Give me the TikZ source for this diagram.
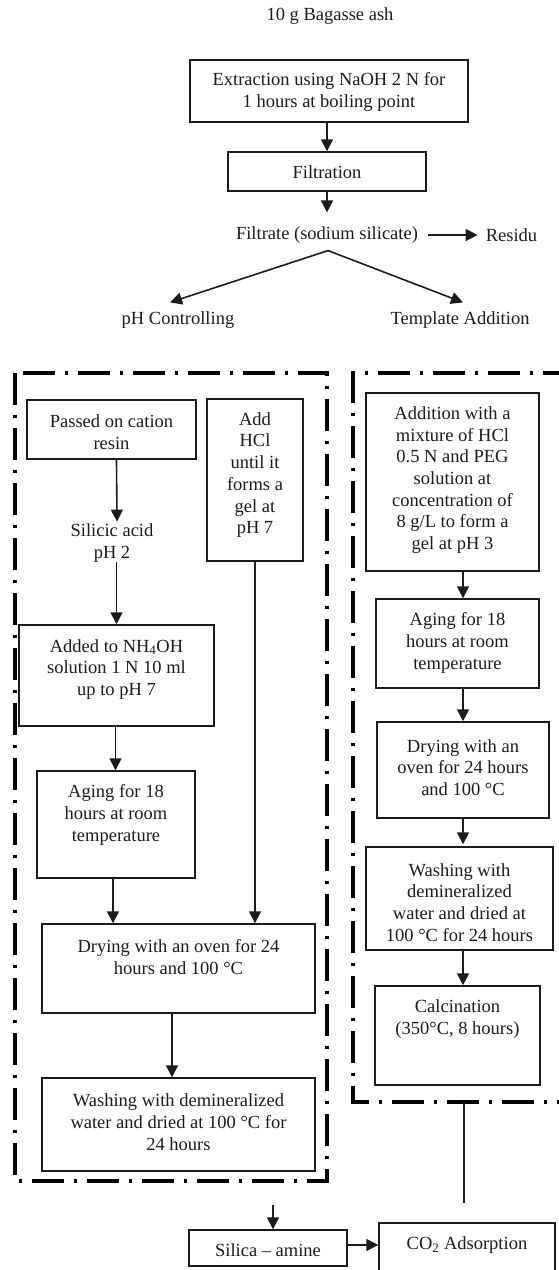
\documentclass[tikz,border=0pt]{standalone}
\usepackage{fontspec}
\setmainfont{Liberation Serif}
\usetikzlibrary{arrows.meta,calc}
\definecolor{ink}{HTML}{1c1c1c}
\newcommand{\bx}[5]{\node[box,minimum width={(#4)-(#2)},minimum height={(#5)-(#3)}] (#1) at ({((#2)+(#4))/2},{((#3)+(#5))/2}) {};}
\begin{document}
\begin{tikzpicture}[x=1pt,y=-1pt,
  box/.style={draw=ink,line width=1.5pt,rectangle,inner sep=0pt},
  txt/.style={text=ink,font=\fontsize{18.5}{21.7}\selectfont,align=center,inner sep=0pt},
  arr/.style={draw=ink,line width=1.6pt,-{Triangle[width=12pt,length=12pt]}},
  ln/.style={draw=ink,line width=1.6pt},
  dd/.style={draw=black,line width=3.4pt,line join=miter,dash pattern=on 32pt off 10pt on 3pt off 10pt}]
\useasboundingbox (0,0) rectangle (559,1270);
\clip (0,0) rectangle (559,1270);

% ---- top part
\node[txt] (title) at (330,16) {10 g Bagasse ash};
\bx{ext}{190}{60}{468}{122}
\node[txt] (extT) at (329,92) {Extraction using NaOH 2 N for\\1 hours at boiling point};
\bx{filt}{228}{152}{426}{191}
\node[txt] (filtT) at (327,172) {Filtration};
\draw[arr] (ext.south -| filt.north) -- (filt.north);
\node[txt] (filtrate) at (327,235) {Filtrate (sodium silicate)};
\draw[arr] (filt.south) -- ([yshift=14pt]filtrate.north);
\node[txt] (residu) at (511.5,235) {Residu};
\draw[arr] ([xshift=10pt]filtrate.east) -- ([xshift=-8pt]residu.west);
\node[txt] (ph) at (178,320) {pH Controlling};
\node[txt] (tmpl) at (460,320) {Template Addition};
\draw[arr] ([xshift=1pt,yshift=-7pt]filtrate.south) -- ([xshift=-8pt,yshift=9pt]ph.north);
\draw[arr] ([xshift=1pt,yshift=-7pt]filtrate.south) -- ([xshift=3pt,yshift=9pt]tmpl.north);

% ---- left group (pH controlling)
\draw[dd] (15,373) rectangle (327,1181);
\bx{passed}{27}{400}{196}{459}
\node[txt] (passedT) at (111.5,432) {Passed on cation\\resin};
\node[txt] (silicic) at (112,543) {Silicic acid\\pH 2};
\draw[arr] ([xshift=5pt]passed.south) -- ([xshift=5pt,yshift=2pt]silicic.north);
\bx{added}{19}{625}{214}{726}
\node[txt] (addedT) at (116.5,669.5) {Added to NH\textsubscript{4}OH\\solution 1 N 10 ml\\up to pH 7};
\draw[arr] (silicic.south -| added.north) -- (added.north);
\bx{hcl}{207}{399}{303}{561}
\node[txt] (hclT) at (255,475) {Add\\HCl\\until it\\forms a\\gel at\\pH 7};
\bx{agingL}{37}{771}{195}{878}
\node[txt] (agingLT) at (116,815) {Aging for 18\\hours at room\\temperature};
\draw[arr] ([xshift=-1pt]added.south) -- ([xshift=-1pt]added.south |- agingL.north);
\bx{dryL}{42}{924}{315}{1013}
\node[txt] (dryLT) at (178.5,957) {Drying with an oven for 24\\hours and 100 °C};
\draw[arr] ([xshift=-3pt]agingL.south) -- ([xshift=-3pt]agingL.south |- dryL.north);
\draw[arr] (hcl.south) -- (hcl.south |- dryL.north);
\bx{washL}{42}{1078}{315}{1171}
\node[txt] (washLT) at (178.5,1122) {Washing with demineralized\\water and dried at 100 °C for\\24 hours};
\draw[arr] ([xshift=-6.5pt]dryL.south) -- ([xshift=-6.5pt]washL.north);

% ---- right group (template addition)
\draw[dd] (575,373) -- (353,373) -- (353,1102) -- (575,1102);
\bx{addR}{366}{393}{539}{571}
\node[txt] (addRT) at (452.5,480) {Addition with a\\mixture of HCl\\0.5 N and PEG\\solution at\\concentration of\\8 g/L to form a\\gel at pH 3};
\bx{agingR}{376}{599}{539}{688}
\node[txt] (agingRT) at (457.5,643) {Aging for 18\\hours at room\\temperature};
\bx{dryR}{377}{722}{549}{818}
\node[txt] (dryRT) at (463,767.5) {Drying with an\\oven for 24 hours\\and 100 °C};
\bx{washR}{366}{847}{553}{950}
\node[txt] (washRT) at (459.5,902.5) {Washing with\\demineralized\\water and dried at\\100 °C for 24 hours};
\bx{calc}{375}{986}{540}{1085}
\node[txt] (calcT) at (457.5,1019) {Calcination\\(350°C, 8 hours)};
\draw[arr] (addR.south -| dryR.north) -- (agingR.north -| dryR.north);
\draw[arr] (agingR.south -| dryR.north) -- (dryR.north);
\draw[arr] (dryR.south) -- ([yshift=2pt]washR.north -| dryR.south);
\draw[arr] (washR.south -| dryR.south) -- (calc.north -| dryR.south);

% ---- bottom
\coordinate (rbot) at (464,1102);
\coordinate (rend) at (464,1203);
\draw[ln] (rbot) -- (rend);
\coordinate (lstart) at (273,1205);
\bx{silica}{189}{1230}{347}{1266}
\node[txt] (silicaT) at (268,1250) {Silica – amine};
\draw[arr] (lstart) -- (lstart |- silica.north);
\bx{co2}{379}{1223}{555}{1295}
\node[txt] (co2T) at (467,1245) {CO\textsubscript{2} Adsorption};
\draw[arr] ([yshift=3pt]silica.east) -- ([yshift=3pt]silica.east -| co2.west);
\end{tikzpicture}
\end{document}
